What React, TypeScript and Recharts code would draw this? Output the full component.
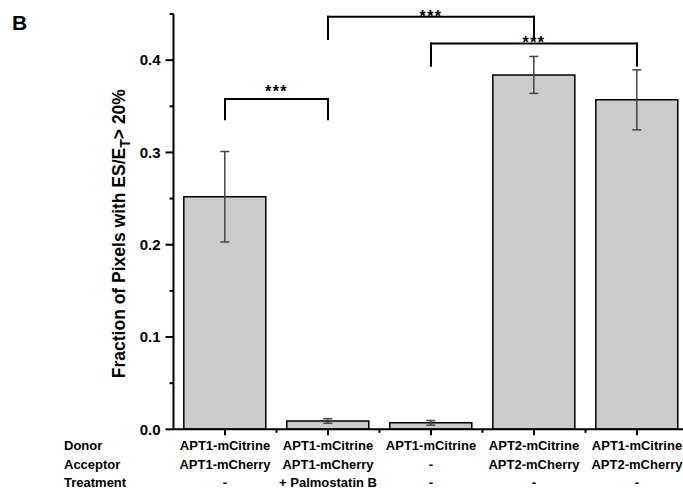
import { BarChart, Bar, XAxis, YAxis, ErrorBar, ReferenceLine } from 'recharts';

const groups = ['g1', 'g2', 'g3', 'g4', 'g5'];
const donors = ['APT1-mCitrine', 'APT1-mCitrine', 'APT1-mCitrine', 'APT2-mCitrine', 'APT1-mCitrine'];
const acceptors = ['APT1-mCherry', 'APT1-mCherry', '-', 'APT2-mCherry', 'APT2-mCherry'];
const treatments = ['-', '+ Palmostatin B', '-', '-', '-'];
const fractions = [0.252, 0.009, 0.007, 0.384, 0.357];
const errors = [0.049, 0.0025, 0.0025, 0.02, 0.0325];
const yTicks = [0, 0.05, 0.1, 0.15, 0.2, 0.25, 0.3, 0.35, 0.4, 0.45];

// significance brackets: from/to group, height of the bar, bottom of the legs
const brackets = [
  { from: 'g1', to: 'g2', top: 0.358, foot: 0.336, starOffset: 2 },
  { from: 'g2', to: 'g4', top: 0.447, foot: 0.423, starOffset: -5 },
  { from: 'g3', to: 'g5', top: 0.418, foot: 0.394, starOffset: -4 },
];

const rowLabels = ['Donor', 'Acceptor', 'Treatment'];

const FONT = '"Liberation Sans", Arial, sans-serif';

const data = groups.map((g, i) => ({
  group: g,
  fraction: fractions[i],
  error: errors[i],
}));

const YTick = ({ x, y, payload }: any) => {
  const v = payload.value;
  const major = Math.abs(v * 10 - Math.round(v * 10)) < 1e-6;
  return (
    <g>
      <line x1={x} x2={x - (major ? 8 : 4)} y1={y} y2={y} stroke="#000" strokeWidth={2} />
      {major && (
        <text x={x - 13} y={y} dy={5.3} textAnchor="end" fontSize={15} fontWeight="bold" fontFamily={FONT} fill="#000">
          {v.toFixed(1)}
        </text>
      )}
    </g>
  );
};

const XTick = ({ x, y, payload, index }: any) => {
  const half = payload.offset || 51.5;
  const lines = [donors[index], acceptors[index], treatments[index]];
  return (
    <g>
      <line x1={x} x2={x} y1={y} y2={y + 6} stroke="#000" strokeWidth={2} />
      <line x1={x + half} x2={x + half} y1={y} y2={y + 3.5} stroke="#000" strokeWidth={2} />
      {lines.map((t, k) => (
        <text key={k} x={x} y={y + 21 + k * 18.5} textAnchor="middle" fontSize={13} fontWeight="bold" fontFamily={FONT} fill="#000">
          {t}
        </text>
      ))}
    </g>
  );
};

const YLabel = ({ viewBox }: any) => {
  const cx = 125.5;
  const cy = viewBox.y + viewBox.height / 2 + 12;
  return (
    <text
      x={cx}
      y={cy}
      transform={`rotate(-90, ${cx}, ${cy})`}
      textAnchor="middle"
      fontSize={17.5}
      fontWeight="bold"
      fontFamily={FONT}
      fill="#000"
    >
      Fraction of Pixels with ES/E
      <tspan fontSize={14} dy={5}>T</tspan>
      <tspan dy={-5}>{'> 20%'}</tspan>
    </text>
  );
};

export default function App() {
  const lineProps = { stroke: '#000', strokeWidth: 2, strokeLinecap: 'square' as const };
  return (
    <div style={{ position: 'fixed', left: 0, top: 0, width: 683, height: 492, overflow: 'hidden', background: '#fff' }}>
      <style>{'html,body{margin:0;padding:0;overflow:hidden}'}</style>
      <BarChart
        width={700}
        height={492}
        data={data}
        margin={{ top: 14, right: 11.5, bottom: 0, left: 0 }}
        barCategoryGap="10%"
      >
        <XAxis
          dataKey="group"
          height={62.7}
          interval={0}
          tickLine={false}
          tickSize={0}
          tickMargin={0}
          axisLine={{ stroke: '#000', strokeWidth: 2 }}
          tick={<XTick />}
        />
        <YAxis
          width={173.5}
          domain={[0, 0.45]}
          ticks={yTicks}
          interval={0}
          tickLine={false}
          tickSize={0}
          tickMargin={0}
          axisLine={{ stroke: '#000', strokeWidth: 2 }}
          tick={<YTick />}
          label={{ content: <YLabel /> }}
        />
        <Bar dataKey="fraction" fill="#cbcbcb" stroke="#000" strokeWidth={1.5} isAnimationActive={false}>
          <ErrorBar dataKey="error" direction="y" width={4.5} stroke="#444" strokeWidth={1.5} />
        </Bar>
        {brackets.map((b, i) => [
          <ReferenceLine
            key={`h${i}`}
            segment={[{ x: b.from, y: b.top }, { x: b.to, y: b.top }]}
            {...lineProps}
            label={{ value: '***', position: 'top', offset: b.starOffset, fontSize: 16, fontWeight: 'bold', fill: '#000', fontFamily: FONT, letterSpacing: 1.5 }}
          />,
          <ReferenceLine key={`l${i}`} segment={[{ x: b.from, y: b.top }, { x: b.from, y: b.foot }]} {...lineProps} />,
          <ReferenceLine key={`r${i}`} segment={[{ x: b.to, y: b.top }, { x: b.to, y: b.foot }]} {...lineProps} />,
        ])}
      </BarChart>
      <svg width={683} height={492} style={{ position: 'absolute', left: 0, top: 0, pointerEvents: 'none' }}>
        <text x={12} y={29.5} fontSize={21} fontWeight="bold" fontFamily={FONT} fill="#000">
          B
        </text>
        {rowLabels.map((t, k) => (
          <text key={t} x={64} y={450.3 + k * 18.5} fontSize={13} fontWeight="bold" fontFamily={FONT} fill="#000">
            {t}
          </text>
        ))}
      </svg>
    </div>
  );
}
